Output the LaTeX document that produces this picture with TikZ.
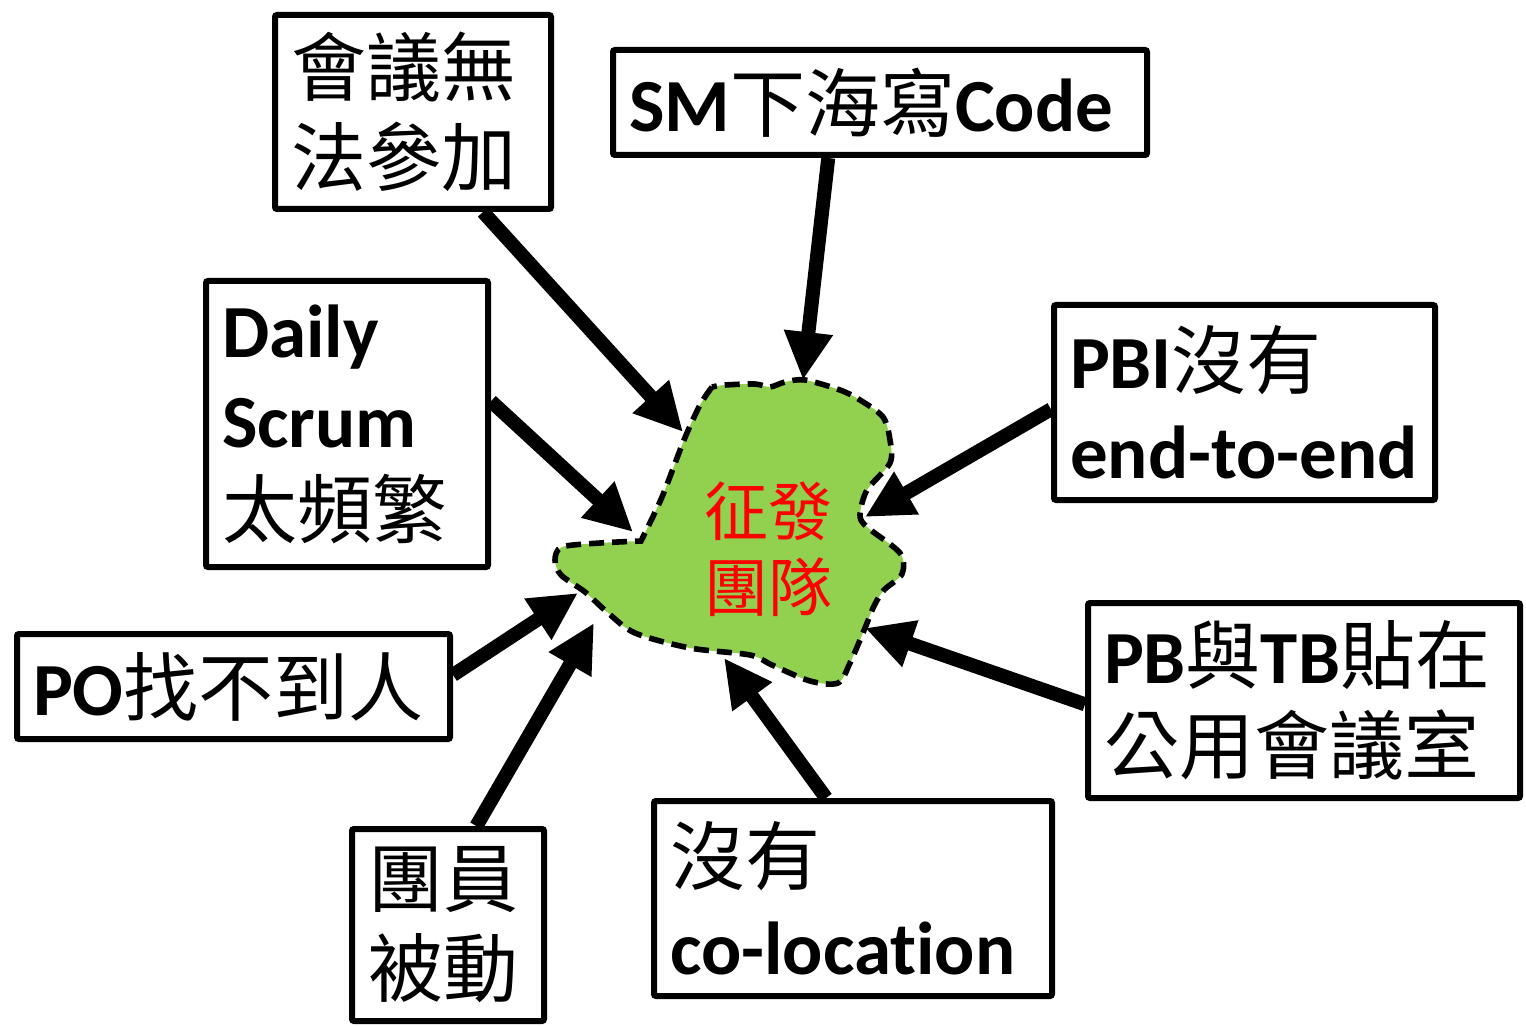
\documentclass[tikz,border=0pt]{standalone}
\usepackage{fontspec}
\setmainfont{Carlito}[Ligatures=NoCommon]
\newfontfamily\cjk{Noto Sans CJK TC}
\usetikzlibrary{arrows.meta}

\newcommand\zh[1]{{\cjk\mdseries #1}}

\definecolor{teamgreen}{HTML}{92D050}

\tikzset{
    cause/.style={draw, line width=3pt, rounded corners=1pt, inner xsep=8pt, inner ysep=0pt, align=left, font=\fontsize{37.5}{45}\selectfont\bfseries},
    push/.style={line width=7pt, -{Triangle[length=24pt,width=23pt]}},
    blobline/.style={fill=teamgreen, line width=2.8pt, dash pattern=on 7.5pt off 4pt}
}

\begin{document}
\begin{tikzpicture}[x=0.5pt,y=-0.5pt]
        \useasboundingbox (0,0) rectangle (1526,1026);

        %Team blob
        \filldraw[blobline] plot[smooth, tension=0.5] coordinates {(712,387) (700,405) (684,440) (662,497) (641,541)}
            -- plot[smooth, tension=0.5] coordinates {(641,541) (600,543) (562,547) (555,560) (561,575) (585,592) (607,612) (635,633) (690,648) (750,655) (772,665) (810,681) (838,683) (850,663) (865,628) (874,606) (884,590) (902,574) (900,553) (867,527) (860,515) (867,490) (890,463) (890,440) (883,417) (860,400) (840,390) (805,380) (785,382) (770,387) (755,384) (725,385) (712,387)} -- cycle;

        % Text Node
        \node[font=\fontsize{32}{38}\selectfont, text=red, align=center] (team) at (768,549) {\zh{征發}\\\zh{團隊}};

        % Tip points
        \coordinate (t1) at (683,432);
        \coordinate (t2) at (803,380);
        \coordinate (t3) at (633,532);
        \coordinate (t4) at (865,517);
        \coordinate (t5) at (578,593);
        \coordinate (t6) at (594,623);
        \coordinate (t7) at (724,658);
        \coordinate (t8) at (865,628);

        % Boxes
        \node[cause, minimum width=138pt, minimum height=97pt, text width=122pt] (meeting) at (413,112) {\zh{會議無}\\\zh{法參加}};
        \node[cause, minimum width=267pt, minimum height=52.5pt, text width=251pt] (sm) at (880,102.5) {SM\zh{下海寫}Code};
        \node[cause, minimum width=141pt, minimum height=143pt, text width=125pt] (daily) at (347,424) {Daily\\Scrum\\\zh{太頻繁}};
        \node[cause, minimum width=190.5pt, minimum height=97.5pt, text width=174.5pt] (pbi) at (1244.5,402.5) {PBI\zh{沒有}\\end-to-end};
        \node[cause, minimum width=216.5pt, minimum height=52.5pt, text width=200.5pt] (po) at (233.5,686.5) {PO\zh{找不到人}};
        \node[cause, minimum width=216pt, minimum height=97.5pt, text width=200pt] (board) at (1304,700.5) {PB\zh{與}TB\zh{貼在}\\\zh{公用會議室}};
        \node[cause, minimum width=96pt, minimum height=96pt, text width=80pt] (member) at (448,925) {\zh{團員}\\\zh{被動}};
        \node[cause, minimum width=199pt, minimum height=97.5pt, text width=183pt] (coloc) at (853,898.5) {\zh{沒有}\\co-location};

        % Arrows
        \draw[push] (meeting.-55) -- (t1);
        \draw[push] (sm.-133) -- (t2);
        \draw[push] (daily.9) -- (t3);
        \draw[push] (pbi.182) -- (t4);
        \draw[push] (po.3) -- (t5);
        \draw[push] (member.74) -- (t6);
        \draw[push] (coloc.105) -- (t7);
        \draw[push] (board.181) -- (t8);
\end{tikzpicture}
\end{document}
